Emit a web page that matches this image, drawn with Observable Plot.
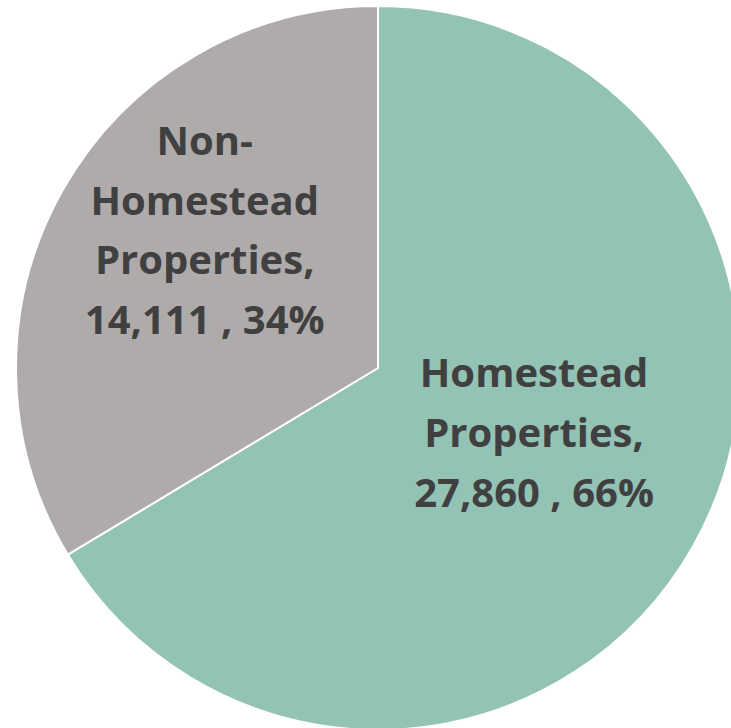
<!DOCTYPE html>
<html>
<head>
<meta charset="utf-8">
<script src="https://cdn.jsdelivr.net/npm/d3@7"></script>
<script src="https://cdn.jsdelivr.net/npm/@observablehq/plot@0.6"></script>
<style>
  html, body { margin: 0; padding: 0; background: #ffffff; }
  #chart { width: 731px; height: 728px; overflow: hidden; }
</style>
</head>
<body>
<div id="chart"></div>
<script>
// ---- data ----
const categories = ["Homestead Properties", "Non-Homestead Properties"];
const labelLines = [["Homestead", "Properties,"], ["Non-", "Homestead", "Properties,"]];
const counts = [27860, 14111];
const percents = [66, 34];
const colors = ["#93C3B5", "#AFABAB"];

// ---- layout ----
const W = 731, H = 728;
const CX = 378, CY = 368, R = 362;
// label placement (angle offset in degrees from slice mid-angle, radius fraction)
const labelPlace = [{dAngle: -8.6, rFrac: 0.460}, {dAngle: 10.0, rFrac: 0.622}];

const pie = d3.pie().sort(null).value(d => d.value);
const rows = categories.map((c, i) => ({name: c, value: counts[i], pct: percents[i], color: colors[i], lines: labelLines[i]}));
const arcs = pie(rows);

const fmt = d3.format(",");
const labels = arcs.map((a, i) => {
  const mid = (a.startAngle + a.endAngle) / 2 + labelPlace[i].dAngle * Math.PI / 180;
  const r = labelPlace[i].rFrac;
  return {
    x: Math.sin(mid) * r,
    y: -Math.cos(mid) * r,
    text: [...a.data.lines, `${fmt(a.data.value)} , ${a.data.pct}%`].join("\n")
  };
});

const arcGen = d3.arc().innerRadius(0).outerRadius(R);

function pieMark(index, scales, values, dimensions, context) {
  const g = d3.create("svg:g");
  const cx = scales.x(0), cy = scales.y(0);
  g.attr("transform", `translate(${cx},${cy})`);
  g.selectAll("path")
    .data(arcs)
    .join("path")
    .attr("d", arcGen)
    .attr("fill", d => d.data.color)
    .attr("stroke", "#ffffff")
    .attr("stroke-width", 2)
    .attr("stroke-linejoin", "round");
  return g.node();
}

const chart = Plot.plot({
  width: W,
  height: H,
  margin: 0,
  x: {domain: [-1, 1], range: [CX - R, CX + R], axis: null},
  y: {domain: [-1, 1], range: [CY - R, CY + R], axis: null},
  style: {background: "#ffffff", overflow: "hidden"},
  marks: [
    pieMark,
    Plot.text(labels, {
      x: "x", y: "y", text: "text",
      fontFamily: "'Open Sans', sans-serif",
      fontWeight: "bold",
      fontSize: 40,
      lineHeight: 1.49,
      fill: "#404040",
      textAnchor: "middle",
      lineAnchor: "middle"
    })
  ]
});
document.getElementById("chart").appendChild(chart);
</script>
</body>
</html>
